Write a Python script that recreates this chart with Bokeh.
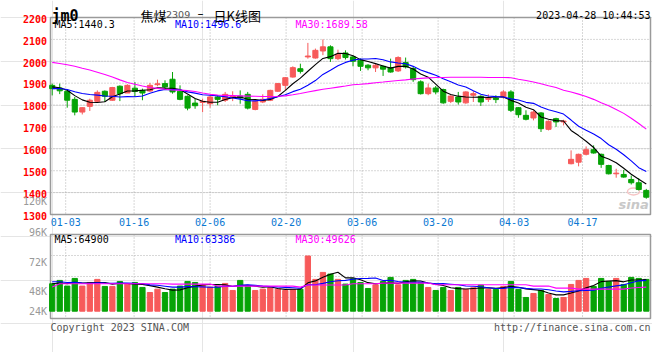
import numpy as np
from bokeh.plotting import figure
from bokeh.models import Range1d, ColumnDataSource
from bokeh.core.properties import value
from bokeh.embed import file_html
from bokeh.resources import INLINE

# ---------------- data ----------------
dates = ["12-29", "12-30",
         "01-03", "01-04", "01-05", "01-06", "01-09", "01-10", "01-11", "01-12", "01-13",
         "01-16", "01-17", "01-18", "01-19", "01-20", "01-30", "01-31",
         "02-01", "02-02", "02-03", "02-06", "02-07", "02-08", "02-09", "02-10",
         "02-13", "02-14", "02-15", "02-16", "02-17", "02-20", "02-21", "02-22", "02-23", "02-24",
         "02-27", "02-28",
         "03-01", "03-02", "03-03", "03-06", "03-07", "03-08", "03-09", "03-10",
         "03-13", "03-14", "03-15", "03-16", "03-17", "03-20", "03-21", "03-22", "03-23", "03-24",
         "03-27", "03-28", "03-29", "03-30", "03-31",
         "04-03", "04-04", "04-06", "04-07", "04-10", "04-11", "04-12", "04-13", "04-14",
         "04-17", "04-18", "04-19", "04-20", "04-21", "04-24", "04-25", "04-26", "04-27", "04-28"]

opens = [1890, 1878, 1863, 1826, 1768, 1794, 1817, 1863, 1822, 1886,
         1855, 1877, 1867, 1864, 1893, 1898, 1918, 1863, 1840, 1809,
         1812, 1806, 1837, 1822, 1837, 1841, 1849, 1780, 1814, 1822,
         1863, 1890, 1928, 1966, 2020, 2015, 2047, 2066, 2012, 2038,
         2020, 2005, 1982, 1970, 1977, 1971, 1956, 1994, 1967, 1906,
         1852, 1878, 1871, 1817, 1837, 1810, 1845, 1840, 1826, 1832,
         1837, 1860, 1788, 1753, 1741, 1764, 1689, 1738, 1723, 1532,
         1539, 1575, 1596, 1575, 1524, 1486, 1483, 1460, 1445, 1410]
highs = [1898, 1898, 1866, 1837, 1790, 1829, 1867, 1867, 1883, 1890,
         1895, 1905, 1875, 1901, 1916, 1913, 1951, 1890, 1844, 1829,
         1829, 1844, 1844, 1860, 1863, 1867, 1860, 1822, 1849, 1870,
         1901, 1928, 1977, 1989, 2084, 2058, 2100, 2073, 2053, 2050,
         2026, 2013, 1987, 1987, 1982, 2012, 2023, 2017, 1974, 1913,
         1898, 1887, 1875, 1845, 1860, 1863, 1864, 1845, 1849, 1845,
         1868, 1868, 1791, 1776, 1776, 1768, 1730, 1742, 1733, 1593,
         1578, 1611, 1616, 1578, 1527, 1509, 1504, 1478, 1466, 1417]
lows = [1844, 1850, 1788, 1753, 1757, 1773, 1814, 1814, 1820, 1818,
        1855, 1837, 1822, 1860, 1886, 1875, 1852, 1822, 1776, 1783,
        1768, 1788, 1799, 1814, 1818, 1806, 1780, 1776, 1809, 1818,
        1860, 1870, 1925, 1944, 2012, 2012, 2028, 1997, 2005, 2008,
        1977, 1956, 1959, 1951, 1933, 1948, 1951, 1967, 1906, 1848,
        1845, 1849, 1806, 1809, 1802, 1806, 1814, 1796, 1814, 1809,
        1829, 1768, 1742, 1730, 1730, 1677, 1684, 1700, 1707, 1529,
        1520, 1570, 1578, 1513, 1483, 1468, 1468, 1437, 1410, 1372]
closes = [1875, 1865, 1822, 1768, 1788, 1822, 1858, 1840, 1880, 1852,
          1890, 1862, 1855, 1890, 1897, 1883, 1860, 1826, 1786, 1797,
          1817, 1837, 1826, 1849, 1841, 1832, 1786, 1818, 1826, 1867,
          1898, 1925, 1971, 1954, 2024, 2050, 2066, 2012, 2032, 2017,
          2000, 1977, 1970, 1982, 1964, 1951, 2017, 1974, 1916, 1852,
          1878, 1860, 1810, 1841, 1814, 1860, 1852, 1814, 1832, 1825,
          1860, 1776, 1756, 1735, 1768, 1692, 1726, 1723, 1727, 1552,
          1575, 1596, 1581, 1529, 1486, 1489, 1471, 1445, 1414, 1379]
volumes = [56600, 63500, 51800, 67600, 51800, 59300, 65600, 51100, 51100, 61400,
           55900, 59300, 49000, 38600, 45500, 38600, 45500, 51800, 61400, 59300,
           53800, 49700, 51800, 57300, 42800, 63500, 51800, 42800, 45500, 48300,
           45500, 42800, 44900, 45500, 113900, 65600, 80000, 76600, 65600, 55900,
           66900, 59300, 46900, 54500, 61400, 69700, 54500, 63500, 65600, 58700,
           49000, 42800, 49000, 42800, 49000, 44900, 48300, 53800, 44900, 44900,
           51100, 61400, 44900, 28300, 36600, 42800, 34500, 26200, 28300, 55200,
           63500, 67600, 51100, 67600, 61400, 67600, 55200, 69700, 67600, 65600]
# closes / volumes of the sessions just before the visible window (feed MA5 / MA10)
pre_closes = [1860, 1870, 1865, 1870, 1870, 1885, 1880, 1890, 1885]
pre_volumes = [64000, 66000, 63000, 66000, 65000, 56000, 58000, 55000, 57400]
# MA30 lines
ma30_price = [1995, 1990, 1984, 1977, 1968, 1960, 1950, 1940, 1928, 1915,
              1903, 1895, 1887, 1880, 1876, 1872, 1869, 1868, 1866, 1862,
              1855, 1849, 1846, 1844, 1843, 1842, 1841, 1840, 1839, 1839,
              1840, 1842, 1847, 1853, 1860, 1866, 1872, 1877, 1882, 1887,
              1893, 1895, 1898, 1902, 1905, 1909, 1912, 1915, 1919, 1922,
              1924, 1926, 1926, 1927, 1927, 1927, 1927, 1927, 1926, 1926,
              1926, 1925, 1918, 1912, 1905, 1897, 1888, 1880, 1868, 1860,
              1850, 1839, 1826, 1811, 1797, 1780, 1762, 1740, 1716, 1690]
ma30_volume = [49700, 56600, 56600, 56600, 56600, 56600, 56600, 56600, 56600, 56600,
               56600, 56600, 56600, 56600, 56600, 56600, 55900, 55900, 55900, 55900,
               55900, 55900, 51800, 51800, 51800, 51800, 51800, 51800, 51800, 51800,
               51800, 51800, 51800, 49700, 54000, 54000, 54000, 54000, 54000, 54000,
               56600, 56600, 56600, 56600, 58000, 58000, 58000, 58000, 58000, 58000,
               58000, 54500, 54500, 54500, 54500, 54500, 54500, 54500, 54500, 54500,
               54500, 54500, 54500, 54500, 51800, 51800, 51800, 47600, 47600, 47600,
               45500, 45500, 45500, 45500, 45500, 45500, 45500, 48000, 48800, 49600]

tick_labels = ["01-03", "01-16", "02-06", "02-20", "03-06", "03-20", "04-03", "04-17"]
price_ticks = [1300, 1400, 1500, 1600, 1700, 1800, 1900, 2000, 2100, 2200]
vol_tick_labels = ["120K", "96K", "72K", "48K", "24K"]
price_legend = [("MA5", 1440.3), ("MA10", 1496.6), ("MA30", 1689.58)]
vol_legend = [("MA5", 64900), ("MA10", 63386), ("MA30", 49626)]
title_symbol = "jm0"
title_name = ["焦煤", "2309", "–", "日K线图"]
timestamp = "2023-04-28 10:44:53"
footer_left = "Copyright 2023 SINA.COM"
footer_right = "http://finance.sina.com.cn"

# ---------------- derived ----------------
n = len(closes)
idx = np.arange(n)
all_c = np.array(pre_closes + closes, float)
all_v = np.array(pre_volumes + volumes, float)
k0 = len(pre_closes)
ma5 = [all_c[k0 + i - 4:k0 + i + 1].mean() for i in range(n)]
ma10 = [all_c[k0 + i - 9:k0 + i + 1].mean() for i in range(n)]
vma5 = [all_v[k0 + i - 4:k0 + i + 1].mean() for i in range(n)]
vma10 = [all_v[k0 + i - 9:k0 + i + 1].mean() for i in range(n)]

RED, GREEN = "#f75a5a", "#06a306"
up = [c >= o for o, c in zip(opens, closes)]
cols = [RED if u else GREEN for u in up]

# ---------------- geometry (pixels of the 660x360 picture) ----------------
CX0, CDX = 51.7, 7.52          # candle centres
GX0, GDX = 50.0, 7.6           # date grid positions
P_Y0, P_BASE, P_SCALE = 214.0, 1300.0, 197.0 / 900.0
V_Y0, V_SCALE = 310.7, 2063.0
FIG_W, FIG_H = 652, 352
L, R = 50, 650


def xdat(sx):
    return (sx - CX0) / CDX


def pdat(sy):
    return P_BASE + (P_Y0 - sy) / P_SCALE


def vdat(sy):
    return (V_Y0 - sy) * V_SCALE


p = figure(width=FIG_W, height=FIG_H, output_backend="svg", toolbar_location=None,
           x_range=Range1d(xdat(0), xdat(FIG_W)), y_range=Range1d(pdat(FIG_H), pdat(0)),
           x_axis_location=None, y_axis_location=None, min_border=0,
           outline_line_color=None, background_fill_color="white",
           border_fill_color="white")
p.extra_y_ranges = {"vol": Range1d(vdat(FIG_H), vdat(0))}

GRID = dict(line_color="#b0b0b0", line_width=1, line_dash="1 2")
FRAME = dict(fill_color=None, line_color="#9a9a9a", line_width=1.5)

# grid lines
hy = price_ticks[1:-1]
p.segment(x0=[xdat(L)] * len(hy), x1=[xdat(R)] * len(hy), y0=hy, y1=hy, **GRID)
tick_idx = [dates.index(t) for t in tick_labels]
gx = [xdat(GX0 + GDX * k) for k in tick_idx]
p.segment(x0=gx, x1=gx, y0=[pdat(17)] * len(gx), y1=[pdat(214)] * len(gx), **GRID)
p.segment(x0=gx, x1=gx, y0=[pdat(234)] * len(gx), y1=[pdat(318)] * len(gx), **GRID)
vtop, vbot = 234, 318
vgy = [pdat(vtop + (vbot - vtop) * k / 4) for k in (1, 2, 3)]
p.segment(x0=[xdat(L)] * 3, x1=[xdat(R)] * 3, y0=vgy, y1=vgy, **GRID)

# frames
p.quad(left=[xdat(L)], right=[xdat(R)], top=[pdat(17)], bottom=[pdat(214)], **FRAME)
p.quad(left=[xdat(L)], right=[xdat(R)], top=[pdat(vtop)], bottom=[pdat(vbot)], **FRAME)

# watermark (behind the candles)
p.ellipse(x=[xdat(633)], y=[pdat(191)], width=1.6, height=7 / P_SCALE,
          fill_color=None, line_color="#f6c4c4", line_width=1.5)

# candles
src = ColumnDataSource(dict(x=idx, o=opens, h=highs, l=lows, c=closes,
                            top=[max(o, c) for o, c in zip(opens, closes)],
                            bot=[min(o, c) for o, c in zip(opens, closes)],
                            col=cols, vol=volumes))
p.segment(x0="x", x1="x", y0="l", y1="h", line_color="col", line_width=1, source=src)
p.vbar(x="x", width=0.68, top="top", bottom="bot", fill_color="col", line_color="col",
       line_width=1, source=src)

# price MAs
p.line(idx, ma5, line_color="black", line_width=1.1)
p.line(idx, ma10, line_color="#0000ff", line_width=1.1)
p.line(idx, ma30_price, line_color="#ff00ff", line_width=1.1)

# volume bars and MAs
p.vbar(x="x", width=0.7, top="vol", bottom=0, fill_color="col", line_color="col",
       line_width=1, source=src, y_range_name="vol")
p.line(idx, vma5, line_color="black", line_width=1.1, y_range_name="vol")
p.line(idx, vma10, line_color="#0000ff", line_width=1.1, y_range_name="vol")
p.line(idx, ma30_volume, line_color="#ff00ff", line_width=1.1, y_range_name="vol")

MONO = value("DejaVu Sans Mono")
CJK = value("Noto Sans CJK SC")


def txt(sx, sy, s, color="black", size="10px", font=MONO, style="normal",
        align="left", baseline="middle"):
    p.text(x=[xdat(sx)], y=[pdat(sy)], text=[s], text_color=color, text_font=font,
           text_font_size=size, text_font_style=style, text_align=align,
           text_baseline=baseline)


# price axis labels
p.text(x=[xdat(46.5)] * len(price_ticks), y=[t - 6 for t in price_ticks],
       text=[str(t) for t in price_ticks], text_color="#ff0000", text_font=MONO,
       text_font_size="10px", text_font_style="bold", text_align="right",
       text_baseline="middle")
# volume axis labels (Sina places them at these heights)
for s, sy in zip(vol_tick_labels, [200.5, 232, 261.5, 290.5, 310.5]):
    txt(46.5, sy, s, color="#999999", align="right")
# date labels
p.text(x=gx, y=[pdat(221)] * len(gx), text=tick_labels, text_color="#0a78d2",
       text_font=MONO, text_font_size="10px", text_align="center", text_baseline="middle")

# legends
lx = [54, 174.5, 295]
lcol = ["black", "#0000ff", "#ff00ff"]
for (nm, v), x0, cl in zip(price_legend, lx, lcol):
    txt(x0, 23.5, f"{nm}:{v}", color=cl)
for (nm, v), x0, cl in zip(vol_legend, lx, lcol):
    txt(x0, 238.5, f"{nm}:{v}", color=cl)

# header
txt(51, 15.5, title_symbol, size="15px", style="bold", baseline="alphabetic")
txt(140, 14.5, title_name[0], size="13px", font=CJK, baseline="alphabetic")
txt(165.5, 13.8, title_name[1], color="#555555", size="9.5px", font=value("DejaVu Sans"),
    baseline="alphabetic")
txt(197, 13.5, title_name[2], size="12px", font=value("DejaVu Sans"), baseline="alphabetic")
txt(213, 14.5, title_name[3], size="13px", font=CJK, baseline="alphabetic")
txt(650, 15.2, timestamp, size="10px", align="right", baseline="alphabetic")

# footer
txt(50, 326.5, footer_left, color="#555555", baseline="alphabetic")
txt(650, 326.5, footer_right, color="#555555", align="right", baseline="alphabetic")

# watermark text
txt(618, 204, "sina", color="#c8c8c8", size="13px", font=value("DejaVu Sans"),
    style="bold italic", baseline="alphabetic")

open("out.html", "w").write(file_html(p, INLINE))
